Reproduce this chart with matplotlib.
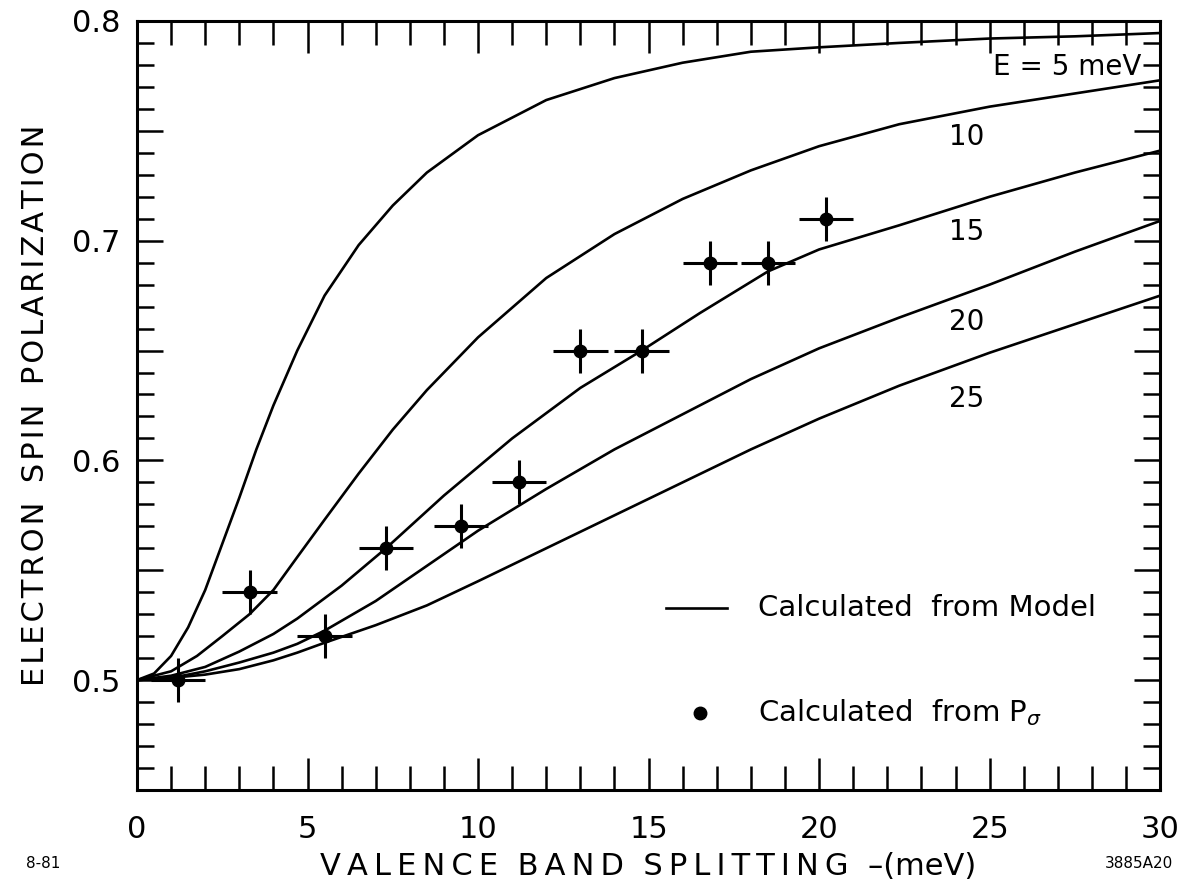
import numpy as np
import matplotlib
matplotlib.use('Agg')
import matplotlib.pyplot as plt
from matplotlib.ticker import MultipleLocator, FuncFormatter

# model curves, one per excitation energy E (meV)
x_e5 = [0, 0.5, 1, 1.5, 2, 2.5, 3, 3.5, 4, 4.7, 5.5, 6.5, 7.5, 8.5, 10, 12, 14, 16, 18, 20, 22.35, 25, 27.5, 30]
p_e5 = [0.5, 0.503, 0.511, 0.524, 0.541, 0.562, 0.583, 0.605, 0.625, 0.650, 0.675, 0.698, 0.716, 0.731, 0.748,
        0.764, 0.774, 0.781, 0.786, 0.788, 0.790, 0.792, 0.793, 0.7945]

x_e10 = [0, 1, 1.76, 2.5, 3.3, 4, 4.7, 5.5, 6.5, 7.5, 8.5, 10, 12, 14, 16, 18, 20, 22.35, 25, 27.5, 30]
p_e10 = [0.5, 0.504, 0.511, 0.520, 0.530, 0.541, 0.556, 0.573, 0.594, 0.614, 0.632, 0.656, 0.683, 0.703,
         0.719, 0.732, 0.743, 0.753, 0.761, 0.767, 0.773]

x_e15 = [0, 1, 2, 3, 4, 4.7, 6, 7.3, 9, 11, 13, 14.8, 16.5, 18.5, 20, 22.35, 25, 27.5, 30]
p_e15 = [0.5, 0.502, 0.506, 0.513, 0.521, 0.528, 0.543, 0.560, 0.584, 0.610, 0.633, 0.650, 0.667, 0.686,
         0.696, 0.707, 0.720, 0.731, 0.741]

x_e20 = [0, 1, 2, 3, 4, 4.7, 5.5, 7, 8.5, 10, 12, 14, 16, 18, 20, 22.35, 25, 27.5, 30]
p_e20 = [0.5, 0.501, 0.504, 0.508, 0.5125, 0.5165, 0.5225, 0.536, 0.552, 0.568, 0.587, 0.605, 0.621, 0.637,
         0.651, 0.665, 0.680, 0.695, 0.709]

x_e25 = [0, 1, 2, 3, 4, 4.7, 5.5, 7, 8.5, 10, 12, 14, 16, 18, 20, 22.35, 25, 27.5, 30]
p_e25 = [0.5, 0.501, 0.5025, 0.505, 0.509, 0.5125, 0.517, 0.525, 0.534, 0.545, 0.560, 0.575, 0.590, 0.605,
         0.619, 0.634, 0.649, 0.662, 0.675]

curves = [(x_e5, p_e5), (x_e10, p_e10), (x_e15, p_e15), (x_e20, p_e20), (x_e25, p_e25)]
curve_labels = ['E = 5 meV', '10', '15', '20', '25']
label_x = [25.1, 23.8, 23.8, 23.8, 23.8]
label_y = [0.779, 0.747, 0.704, 0.663, 0.628]

# polarization obtained from P_sigma
split = [1.2, 3.3, 5.5, 7.3, 9.5, 11.2, 13.0, 14.8, 16.8, 18.5, 20.2]
pol = [0.50, 0.54, 0.52, 0.56, 0.57, 0.59, 0.65, 0.65, 0.69, 0.69, 0.71]
split_err = [0.8] * len(split)
pol_err = [0.01] * len(split)

plt.rcParams['font.family'] = 'DejaVu Sans'

fig = plt.figure(figsize=(11.87, 8.88), dpi=100)
ax = fig.add_axes([0.1154, 0.1104, 0.862, 0.866])

for xs, ps in curves:
    ax.plot(xs, ps, color='black', lw=1.9, solid_capstyle='round')

ax.errorbar(split, pol, xerr=split_err, yerr=pol_err, fmt='o', color='black',
            ms=9, elinewidth=2.2, capsize=0)

for txt, lx, ly in zip(curve_labels, label_x, label_y):
    ax.text(lx, ly, txt, fontsize=20, va='center', ha='left')

# legend drawn by hand
ax.plot([15.5, 17.3], [0.533, 0.533], color='black', lw=1.9)
ax.plot([16.5], [0.485], 'o', color='black', ms=9)
ax.text(18.2, 0.533, 'Calculated  from Model', fontsize=21, va='center')
ax.text(18.2, 0.485, r'Calculated  from P$_\sigma$', fontsize=21, va='center')

ax.set_xlim(0, 30)
ax.set_ylim(0.45, 0.8)

ax.xaxis.set_major_locator(MultipleLocator(5))
ax.xaxis.set_minor_locator(MultipleLocator(1))
ax.yaxis.set_major_locator(MultipleLocator(0.05))
ax.yaxis.set_minor_locator(MultipleLocator(0.01))


def ylab(v, pos):
    if abs(v * 10 - round(v * 10)) < 1e-6:
        return '%.1f' % v
    return ''


ax.yaxis.set_major_formatter(FuncFormatter(ylab))
ax.xaxis.set_major_formatter(FuncFormatter(lambda v, pos: '%d' % round(v)))

ax.tick_params(axis='both', which='both', direction='in', top=True, right=True,
               width=1.8, labelsize=22, color='black')
ax.tick_params(axis='x', which='major', length=23, pad=18)
ax.tick_params(axis='x', which='minor', length=17)
ax.tick_params(axis='y', which='major', length=19, pad=12)
ax.tick_params(axis='y', which='minor', length=12)
for s in ax.spines.values():
    s.set_linewidth(2.2)

ax.set_ylabel('  '.join('\u200a'.join(w) for w in 'ELECTRON SPIN POLARIZATION'.split()),
              fontsize=22, labelpad=16)
ax.set_xlabel('  '.join('\u2009'.join(w) for w in 'VALENCE BAND SPLITTING'.split()) + '  \u2013(meV)',
              fontsize=22, labelpad=6)

fig.text(0.022, 0.022, '8-81', fontsize=11)
fig.text(0.988, 0.022, '3885A20', fontsize=11, ha='right')

fig.savefig('out.png', dpi=100)
